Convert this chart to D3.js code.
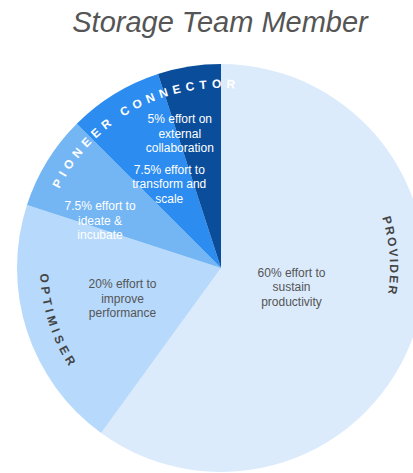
<!DOCTYPE html>
<html>
<head>
  <meta charset="utf-8">
  <title>Storage Team Member</title>
  <script src="https://d3js.org/d3.v7.min.js"></script>
  <style>
    body { margin: 0; background: #fff; }
    svg text { font-family: "Liberation Sans", Arial, sans-serif; }
  </style>
</head>
<body>
<div id="chart"></div>

<script type="text/javascript">
  // data
  const title = 'Storage Team Member';
  const shares = [60, 20, 7.5, 7.5, 5];
  const sliceTexts = [
    ['60% effort to', 'sustain', 'productivity'],
    ['20% effort to', 'improve', 'performance'],
    ['7.5% effort to', 'ideate &', 'incubate'],
    ['7.5% effort to', 'transform and', 'scale'],
    ['5% effort on', 'external', 'collaboration']
  ];
  const roles = ['PROVIDER', 'OPTIMISER', 'PIONEER CONNECTOR'];
  const roleSlices = [[0], [1], [2, 3, 4]];

  // looks
  const colors = ['#dbebfc', '#b7d9fc', '#74b6f4', '#2c8cef', '#0a4e9b'];
  const textColors = ['#555', '#555', '#fff', '#fff', '#fff'];
  const roleColors = ['#444', '#444', '#fff'];
  // label placement: radius and angle shift (degrees) from slice middle
  const labelRadius = [73, 103, 130, 99, 141];
  const labelShift = [-3, 1, -10, 0, -8];
  // role labels: baseline radius, angle shift, spacing, clockwise or not
  const roleRadius = [169, 181, 180];
  const roleShift = [-22, 0, 7];
  const roleSpacing = [2, 4, 5];
  const roleClockwise = [true, false, true];

  let W = 413, H = 473;
  let cx = 221, cy = 268, R = 204;

  let svg = d3.select('#chart')
      .append('svg')
        .attr('width', W)
        .attr('height', H);

  svg.append('text')
     .attr('x', 220)
     .attr('y', 32)
     .attr('text-anchor', 'middle')
     .attr('font-size', '29px')
     .attr('font-style', 'italic')
     .attr('fill', '#555')
     .text(title);

  let g = svg.append('g')
      .attr('transform', `translate(${cx},${cy})`);

  let pie = d3.pie().sort(null).value(d => d);
  let arcs = pie(shares);
  let arc = d3.arc().innerRadius(0).outerRadius(R);

  g.selectAll('path.slice')
   .data(arcs)
   .enter()
   .append('path')
   .attr('class', 'slice')
   .attr('d', arc)
   .attr('fill', (d, i) => colors[i]);

  // texts inside the slices
  const rad = Math.PI / 180;
  arcs.forEach((d, i) => {
    let a = (d.startAngle + d.endAngle) / 2 + labelShift[i] * rad;
    let x = labelRadius[i] * Math.sin(a);
    let y = -labelRadius[i] * Math.cos(a);
    let t = g.append('text')
       .attr('text-anchor', 'middle')
       .attr('font-size', '12px')
       .attr('fill', textColors[i]);
    sliceTexts[i].forEach((line, j) => {
      t.append('tspan')
       .attr('x', x)
       .attr('y', y + (j - 1) * 14.6 + 4.5)
       .text(line);
    });
  });

  // curved role names
  roles.forEach((name, i) => {
    let s = roleSlices[i];
    let a0 = arcs[s[0]].startAngle, a1 = arcs[s[s.length - 1]].endAngle;
    let mid = (a0 + a1) / 2 + roleShift[i] * rad;
    let half = 60 * rad;
    let r = roleRadius[i];
    let p = d3.path();
    if (roleClockwise[i]) {
      p.arc(0, 0, r, mid - half - Math.PI / 2, mid + half - Math.PI / 2, false);
    } else {
      p.arc(0, 0, r, mid + half - Math.PI / 2, mid - half - Math.PI / 2, true);
    }
    g.append('path')
     .attr('id', 'role' + i)
     .attr('d', p.toString())
     .attr('fill', 'none');
    g.append('text')
     .attr('font-size', '12px')
     .attr('font-weight', 'bold')
     .attr('letter-spacing', roleSpacing[i] + 'px')
     .attr('fill', roleColors[i])
     .append('textPath')
       .attr('href', '#role' + i)
       .attr('startOffset', '50%')
       .attr('text-anchor', 'middle')
       .text(name);
  });
</script>
</body>
</html>
